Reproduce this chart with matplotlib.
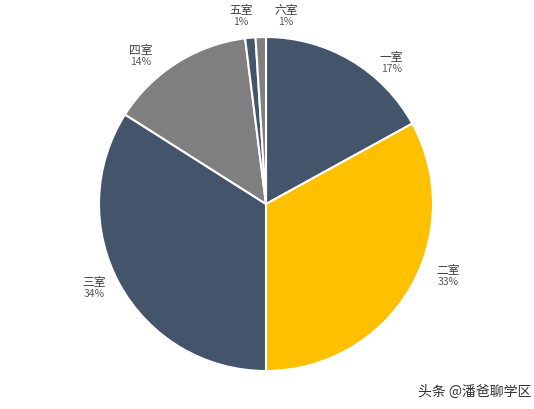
import matplotlib.pyplot as plt

plt.rcParams['font.family'] = ['Noto Sans CJK SC', 'DejaVu Sans']

labels = ['一室', '二室', '三室', '四室', '五室', '六室']
values = [17, 33, 34, 14, 1, 1]
pct_text = ['17%', '33%', '34%', '14%', '1%', '1%']
colors = ['#44546A', '#FFC000', '#44546A', '#7F7F7F', '#44546A', '#7F7F7F']

fig = plt.figure(figsize=(5.34, 4.09), dpi=100)
cx, cy, r = 266, 204, 167
ax = fig.add_axes([(cx - r) / 534, (409 - cy - r) / 409, 2 * r / 534, 2 * r / 409])
wedges, _ = ax.pie(values, colors=colors, startangle=90, counterclock=False,
                   wedgeprops=dict(edgecolor='white', linewidth=1.5))
ax.set_xlim(-1, 1)
ax.set_ylim(-1, 1)
ax.set_aspect('auto')

# label positions (best-fit outside the pie), in radius units
label_pos = [(0.75, 0.84), (1.09, -0.44), (-1.03, -0.51), (-0.75, 0.88), (-0.15, 1.12), (0.12, 1.12)]
for (x, y), lab, p in zip(label_pos, labels, pct_text):
    ax.text(x, y, lab, ha='center', va='bottom', fontsize=8.5, color='#404040', clip_on=False)
    ax.text(x, y, p, ha='center', va='top', fontsize=7.5, color='#595959', clip_on=False)

fig.text(0.995, 0.025, '头条 @潘爸聊学区', ha='right', va='bottom', fontsize=10, color='#333333')
fig.savefig('out.png', dpi=100)
